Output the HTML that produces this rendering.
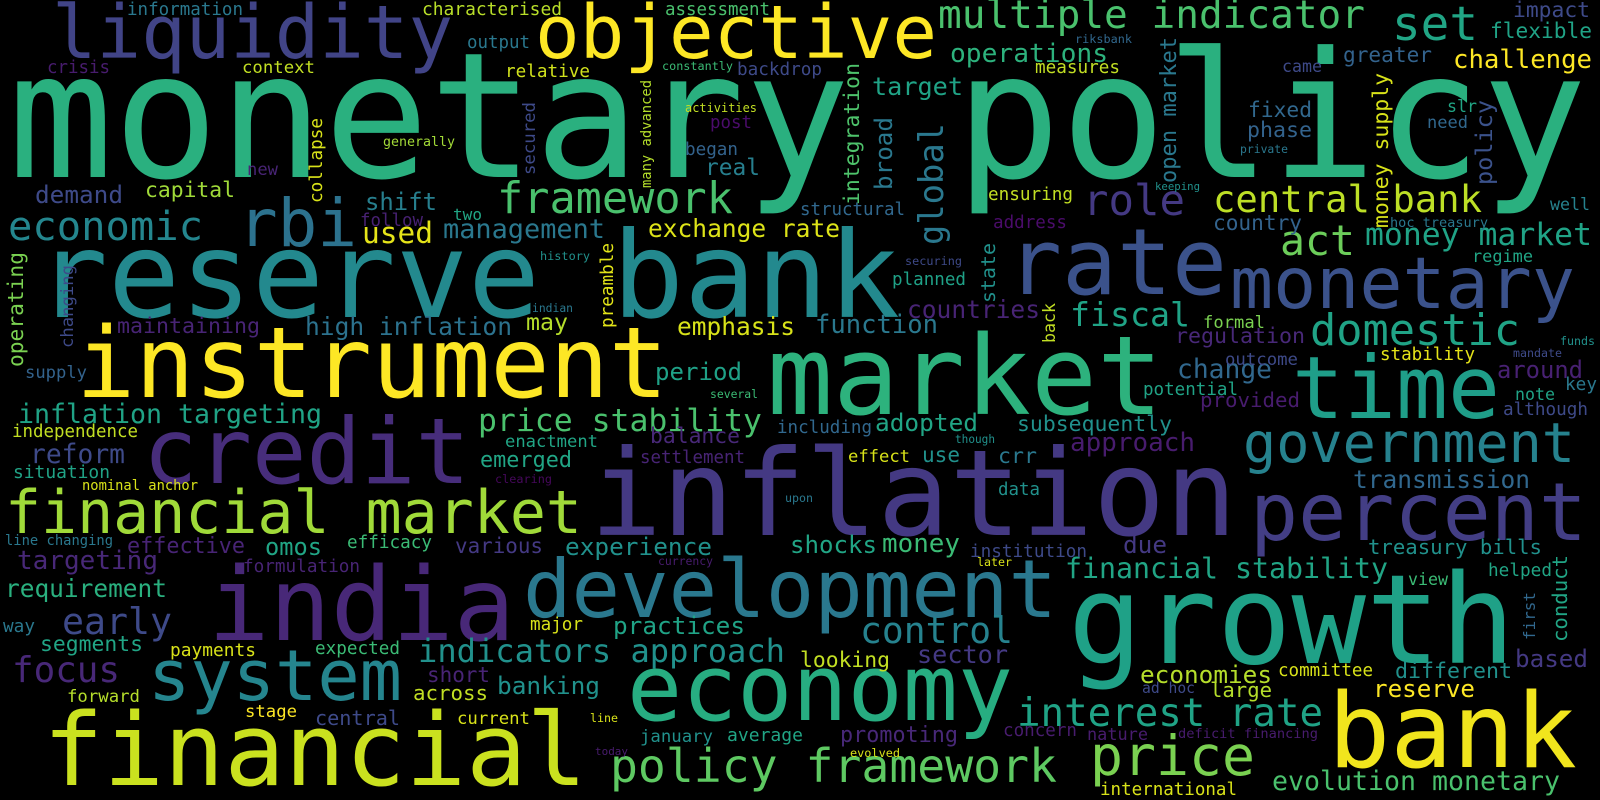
<!DOCTYPE html>
<html><head><meta charset="utf-8"><style>
html,body{margin:0;padding:0;background:#000;width:1600px;height:800px;overflow:hidden}
svg text{font-family:"DejaVu Sans Mono","Liberation Mono",monospace}
</style></head><body>
<svg id="cloud" width="1600" height="800" viewBox="0 0 1600 800" xmlns="http://www.w3.org/2000/svg">
<rect width="1600" height="800" fill="#000"/>
</svg>
<script>
// [text, x-left (or baseline x if vertical), baseline y (or bottom y if vertical), length, color, vertical]
const words = [
["monetary policy",8,177,1579,"#2ab07f",0],
["reserve bank",36,317,864,"#23898e",0],
["inflation",590,535,647,"#443983",0],
["instrument",76,397,592,"#fde725",0],
["market",767,414,396,"#2db27d",0],
["growth",1068,663,447,"#1fa187",0],
["india",208,640,307,"#482878",0],
["credit",143,483,327,"#472d7b",0],
["financial",43,785,544,"#cae11f",0],
["bank",1328,767,249,"#f1e51d",0],
["economy",627,720,386,"#27ad81",0],
["development",523,617,534,"#2a788e",0],
["time",1292,418,208,"#1f9e89",0],
["rate",1007,294,220,"#3b528b",0],
["monetary",1230,308,345,"#3b528b",0],
["percent",1250,540,337,"#433e85",0],
["government",1243,462,332,"#26828e",0],
["liquidity",52,58,401,"#414487",0],
["objective",535,58,402,"#fde725",0],
["rbi",238,246,119,"#2c728e",0],
["system",148,700,254,"#25858e",0],
["financial market",5,533,577,"#a0da39",0],
["price",1090,775,165,"#7ad151",0],
["policy framework",610,782,447,"#5ec962",0],
["interest rate",1017,726,306,"#20a386",0],
["multiple indicator",938,28,427,"#4ac16d",0],
["set",1392,40,86,"#21a585",0],
["framework",497,213,236,"#4ac16d",0],
["central bank",1213,212,269,"#bddf26",0],
["act",1280,255,75,"#6ccd5a",0],
["money market",1365,245,227,"#20a386",0],
["domestic",1310,345,210,"#20a386",0],
["role",1083,215,102,"#443983",0],
["fiscal",1070,326,120,"#20a386",0],
["economic",8,240,195,"#24868e",0],
["price stability",478,431,284,"#4ac16d",0],
["indicators approach",418,662,367,"#21918c",0],
["financial stability",1065,578,323,"#21a585",0],
["control",860,643,153,"#26828e",0],
["evolution monetary",1272,790,288,"#4ac16d",0],
["information",127,15,116,"#2a788e",0],
["crisis",47,73,63,"#481c6e",0],
["context",242,73,73,"#c2df23",0],
["generally",383,146,72,"#a2da37",0],
["new",247,175,31,"#482475",0],
["capital",145,197,90,"#a0da39",0],
["demand",35,203,88,"#3e4a89",0],
["shift",365,210,72,"#277f8e",0],
["follow",360,226,63,"#482173",0],
["used",362,243,71,"#e5e419",0],
["supply",25,378,62,"#33638d",0],
["maintaining",117,333,143,"#482475",0],
["high inflation",305,335,207,"#2c728e",0],
["characterised",422,15,140,"#b8de29",0],
["assessment",665,15,105,"#4ac16d",0],
["output",467,48,63,"#2a788e",0],
["relative",505,77,85,"#d0e11c",0],
["constantly",662,70,71,"#3bbb75",0],
["backdrop",737,75,85,"#3e4a89",0],
["activities",685,112,72,"#c2df23",0],
["post",710,128,42,"#4b0c6b",0],
["began",685,155,53,"#33638d",0],
["real",705,175,55,"#277f8e",0],
["two",453,220,29,"#21a685",0],
["management",443,238,162,"#2a788e",0],
["exchange rate",648,237,192,"#dde318",0],
["history",540,260,50,"#21918c",0],
["indian",532,312,41,"#2a788e",0],
["may",526,330,42,"#b5de2b",0],
["emphasis",677,335,118,"#d8e219",0],
["period",655,380,87,"#1fa187",0],
["several",710,398,48,"#3bbb75",0],
["riksbank",1075,43,57,"#31688e",0],
["operations",950,62,158,"#2db27d",0],
["measures",1035,73,85,"#c2df23",0],
["target",872,95,91,"#20a386",0],
["keeping",1155,190,45,"#21918c",0],
["ensuring",988,200,85,"#c2df23",0],
["structural",800,215,105,"#31688e",0],
["address",993,228,74,"#4b0c6b",0],
["securing",905,265,57,"#3e4a89",0],
["planned",892,285,74,"#1fa187",0],
["countries",907,318,133,"#482475",0],
["function",815,333,123,"#2a788e",0],
["regulation",1175,343,130,"#482878",0],
["change",1177,378,95,"#31688e",0],
["potential",1143,395,95,"#20a386",0],
["impact",1513,17,77,"#3e4a89",0],
["flexible",1490,38,102,"#20a386",0],
["greater",1343,62,89,"#33638d",0],
["challenge",1453,68,139,"#fde725",0],
["came",1282,72,40,"#3e4a89",0],
["fixed",1248,117,64,"#31688e",0],
["slr",1447,112,30,"#21a585",0],
["need",1427,128,41,"#31688e",0],
["phase",1247,137,65,"#33638d",0],
["private",1240,153,48,"#2a788e",0],
["well",1550,210,40,"#26828e",0],
["country",1213,230,89,"#33638d",0],
["hoc treasury",1390,227,98,"#2a788e",0],
["regime",1472,262,61,"#21a585",0],
["formal",1203,328,62,"#7ad151",0],
["funds",1560,345,35,"#21918c",0],
["outcome",1225,365,73,"#3e4a89",0],
["stability",1380,360,95,"#e5e419",0],
["mandate",1513,357,49,"#3e4a89",0],
["around",1497,378,86,"#482173",0],
["key",1565,390,32,"#2a788e",0],
["note",1515,400,40,"#20a386",0],
["inflation targeting",18,423,304,"#20a386",0],
["independence",12,437,126,"#c2df23",0],
["reform",30,463,95,"#3e4a89",0],
["situation",13,478,97,"#20a386",0],
["nominal anchor",82,490,116,"#d8e219",0],
["line changing",5,545,108,"#2a788e",0],
["effective",127,553,118,"#482475",0],
["omos",265,555,57,"#21a585",0],
["efficacy",347,548,85,"#3bbb75",0],
["targeting",17,569,141,"#482878",0],
["formulation",243,572,117,"#482475",0],
["requirement",5,597,162,"#2ab07f",0],
["early",62,634,110,"#3e4a89",0],
["way",3,632,32,"#2a788e",0],
["segments",40,651,103,"#21a585",0],
["payments",170,656,86,"#d8e219",0],
["expected",315,654,85,"#3bbb75",0],
["focus",12,682,108,"#482878",0],
["forward",67,702,73,"#b5de2b",0],
["stage",245,717,52,"#fde725",0],
["central",315,725,85,"#3e4a89",0],
["enactment",505,447,93,"#21a585",0],
["balance",650,443,90,"#482878",0],
["including",777,433,95,"#31688e",0],
["emerged",480,467,92,"#21a585",0],
["settlement",640,463,105,"#482475",0],
["clearing",495,483,57,"#46085c",0],
["upon",785,502,28,"#2a788e",0],
["various",455,553,88,"#443983",0],
["experience",565,555,147,"#21918c",0],
["currency",658,565,55,"#481c6e",0],
["practices",613,634,132,"#20a386",0],
["major",530,630,53,"#d8e219",0],
["short",427,682,63,"#482475",0],
["banking",497,694,103,"#21918c",0],
["across",413,700,75,"#c2df23",0],
["current",457,724,73,"#d8e219",0],
["line",590,722,28,"#d8e219",0],
["january",640,742,73,"#21918c",0],
["average",727,741,76,"#21a585",0],
["today",595,755,33,"#481c6e",0],
["subsequently",1017,431,155,"#21918c",0],
["adopted",875,431,103,"#21a585",0],
["though",955,443,40,"#21918c",0],
["approach",1070,451,125,"#481c6e",0],
["effect",848,462,62,"#d8e219",0],
["use",922,462,38,"#21918c",0],
["crr",998,463,39,"#2a788e",0],
["data",998,495,42,"#21918c",0],
["shocks",790,553,87,"#21a585",0],
["money",882,552,78,"#3bbb75",0],
["due",1123,553,44,"#443983",0],
["institution",970,557,117,"#3e4a89",0],
["later",977,566,35,"#d8e219",0],
["looking",800,667,90,"#c2df23",0],
["sector",917,663,91,"#443983",0],
["economies",1140,683,132,"#b5de2b",0],
["ad hoc",1142,693,53,"#3e4a89",0],
["promoting",840,742,118,"#482878",0],
["concern",1003,736,74,"#481c6e",0],
["nature",1087,740,61,"#481c6e",0],
["deficit financing",1178,738,140,"#481c6e",0],
["evolved",850,757,50,"#d8e219",0],
["international",1100,795,137,"#d8e219",0],
["provided",1200,407,100,"#481c6e",0],
["although",1503,415,85,"#3e4a89",0],
["transmission",1353,488,177,"#31688e",0],
["treasury bills",1368,554,174,"#21918c",0],
["helped",1488,576,64,"#21a585",0],
["view",1408,585,40,"#3bbb75",0],
["based",1515,667,73,"#443983",0],
["different",1395,678,117,"#21918c",0],
["committee",1278,676,95,"#d8e219",0],
["large",1210,697,62,"#b5de2b",0],
["reserve",1373,697,102,"#fde725",0],
// vertical words: x = baseline x, y = bottom start
["collapse",322,203,85,"#d8e219",1],
["operating",23,367,115,"#7ad151",1],
["changing",73,348,83,"#3e4a89",1],
["secured",535,175,73,"#3e4a89",1],
["many advanced",651,188,108,"#b5de2b",1],
["preamble",613,328,85,"#e2e418",1],
["integration",859,205,142,"#4ec36b",1],
["broad",892,190,73,"#2a788e",1],
["global",943,245,122,"#2a788e",1],
["open market",1176,183,146,"#2a788e",1],
["state",995,303,60,"#21918c",1],
["back",1055,343,40,"#c2df23",1],
["money supply",1388,228,155,"#d8e219",1],
["policy",1492,185,85,"#3b528b",1],
["conduct",1567,642,87,"#21a585",1],
["first",1535,640,48,"#31688e",1]
];

const svg = document.getElementById('cloud');
const NS = 'http://www.w3.org/2000/svg';
words.forEach(w => {
  const [txt, x, y, len, col, vert] = w;
  const size = len / (0.602 * txt.length);
  const t = document.createElementNS(NS, 'text');
  
  
  t.setAttribute('x', x);
  t.setAttribute('y', y);
  t.setAttribute('font-size', size.toFixed(1));
  t.setAttribute('fill', col);
  t.setAttribute('textLength', len);
  t.setAttribute('lengthAdjust', 'spacingAndGlyphs');
  if (vert) t.setAttribute('transform', 'rotate(-90 ' + x + ' ' + y + ')');
  t.textContent = txt;
  svg.appendChild(t);
});
</script>
</body></html>
